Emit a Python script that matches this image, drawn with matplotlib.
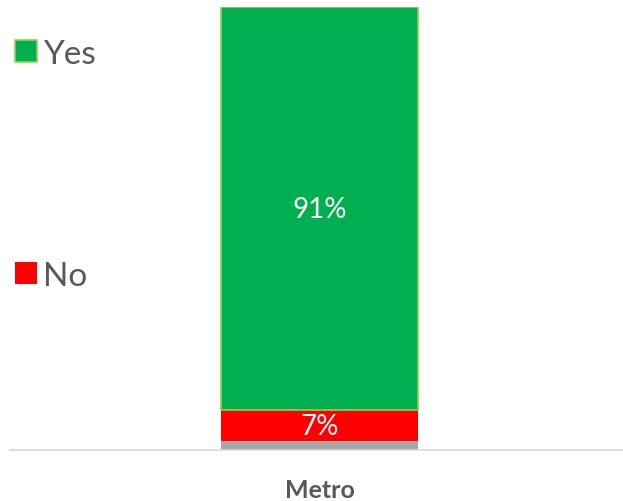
import matplotlib.pyplot as plt

# data
categories = ["Metro"]
other = [2]
no = [7]
yes = [91]

fig = plt.figure(figsize=(6.23, 5.02), dpi=100)
ax = fig.add_axes([10/623, 51/502, 613/623, 443/502])

x = [0]
w = 0.5
ax.bar(x, other, w, color="#a6a6a6", linewidth=0)
b_no = ax.bar(x, no, w, bottom=other, color="#ff0000", linewidth=0)
b_yes = ax.bar(x, yes, w, bottom=[o + n for o, n in zip(other, no)],
               color="#00b050", edgecolor="#92d050", linewidth=1.2)

# labels inside segments
for i in range(len(x)):
    ax.text(x[i], other[i] + no[i] / 2, f"{no[i]}%", ha="center", va="center",
            color="white", fontsize=20, family="Lato")
    ax.text(x[i], other[i] + no[i] + yes[i] / 2, f"{yes[i]}%", ha="center",
            va="center", color="white", fontsize=20, family="Lato")

ax.set_xlim(-0.7855, 0.770)
ax.set_ylim(0, 100)
ax.set_xticks(x)
ax.set_xticklabels(categories, fontsize=18, color="#595959", family="Lato",
                   fontweight="bold")
ax.tick_params(axis="x", length=0, pad=20)
ax.set_yticks([])
for s in ["top", "right", "left"]:
    ax.spines[s].set_visible(False)
ax.spines["bottom"].set_color("#d9d9d9")
ax.spines["bottom"].set_linewidth(1.2)

leg = fig.legend(handles=[b_yes, b_no], labels=["Yes", "No"],
                 loc="upper left", bbox_to_anchor=(-0.024, 0.98),
                 frameon=False, handlelength=0.65, handleheight=0.65,
                 handletextpad=0.2, labelspacing=5.75,
                 prop={"family": "Lato", "size": 24})
for t in leg.get_texts():
    t.set_color("#595959")

fig.savefig("out.png", dpi=100)
